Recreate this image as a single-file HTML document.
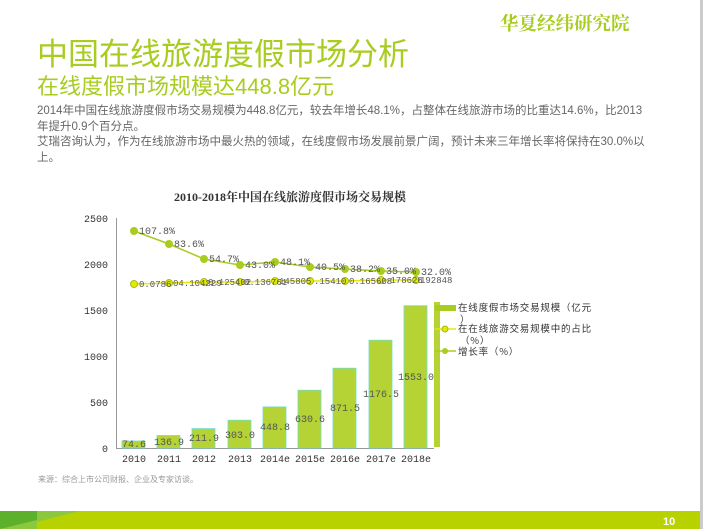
<!DOCTYPE html>
<html><head><meta charset="utf-8"><style>
body{margin:0;width:703px;height:529px;overflow:hidden;background:#fff;font-family:"Liberation Sans","Noto Sans CJK SC",sans-serif;position:relative}
.a{position:absolute;white-space:nowrap}
</style></head><body>
<div class="a" style="right:0;top:0;width:3px;height:529px;background:#ccc"></div>
<div class="a" style="left:500px;top:10px;font-size:18.5px;font-weight:bold;color:#a8cc20;font-family:'Noto Serif CJK SC',serif">华夏经纬研究院</div>
<div class="a" style="left:37px;top:29px;font-size:31px;color:#a8cc20">中国在线旅游度假市场分析</div>
<div class="a" style="left:37px;top:69px;font-size:22px;color:#a8cc20">在线度假市场规模达448.8亿元</div>
<div class="a" style="left:37px;top:104px;font-size:11.5px;line-height:15.5px;color:#666">2014年中国在线旅游度假市场交易规模为448.8亿元，较去年增长48.1%，占整体在线旅游市场的比重达14.6%，比2013<br>年提升0.9个百分点。<br>艾瑞咨询认为，作为在线旅游市场中最火热的领域，在线度假市场发展前景广阔，预计未来三年增长率将保持在30.0%以<br>上。</div>
<svg class="a" style="left:0;top:0" width="703" height="529" font-family="'Liberation Mono','Noto Sans CJK SC',monospace">
<text x="290" y="201" text-anchor="middle" font-size="12" font-weight="bold" font-family="'Liberation Serif','Noto Serif CJK SC',serif" fill="#333">2010-2018年中国在线旅游度假市场交易规模</text>
<g font-size="10" fill="#333" text-anchor="end">
<text x="108" y="222">2500</text><text x="108" y="268">2000</text><text x="108" y="314">1500</text><text x="108" y="360">1000</text><text x="108" y="406">500</text><text x="108" y="452">0</text>
</g>
<line x1="116.5" y1="218" x2="116.5" y2="448" stroke="#999"/>
<line x1="116" y1="448.5" x2="434" y2="448.5" stroke="#999"/>
<g fill="#b5d334" stroke="#6ee0c8" stroke-width="0.8">
<rect x="122" y="441" width="23" height="7"/><rect x="157" y="435.5" width="23" height="12.5"/><rect x="192" y="428.6" width="23" height="19.4"/><rect x="228" y="420.2" width="23" height="27.8"/><rect x="263" y="406.9" width="23" height="41.1"/><rect x="298" y="390.2" width="23" height="57.8"/><rect x="333" y="368.2" width="23" height="79.8"/><rect x="369" y="340.2" width="23" height="107.8"/><rect x="404" y="305.7" width="23" height="142.3"/>
</g>
<g font-size="10" fill="#555" text-anchor="middle">
<text x="134" y="447">74.6</text><text x="169" y="445">136.9</text><text x="204" y="441">211.9</text><text x="240" y="438">303.0</text><text x="275" y="430">448.8</text><text x="310" y="422">630.6</text><text x="345" y="411">871.5</text><text x="381" y="397">1176.5</text><text x="416" y="380">1553.0</text>
</g>
<g font-size="10" fill="#333" text-anchor="middle">
<text x="134" y="462">2010</text><text x="169" y="462">2011</text><text x="204" y="462">2012</text><text x="240" y="462">2013</text><text x="275" y="462">2014e</text><text x="310" y="462">2015e</text><text x="345" y="462">2016e</text><text x="381" y="462">2017e</text><text x="416" y="462">2018e</text>
</g>
<polyline fill="none" stroke="#e8e800" stroke-width="1.5" points="134,284 169,283 204,282 240,282 275,281 310,281 345,281 381,280 416,280"/>
<g fill="#e8e800" stroke="#8ab000" stroke-width="0.8">
<circle cx="134" cy="284" r="3.5"/><circle cx="169" cy="283" r="3.5"/><circle cx="204" cy="282" r="3.5"/><circle cx="240" cy="282" r="3.5"/><circle cx="275" cy="281" r="3.5"/><circle cx="310" cy="281" r="3.5"/><circle cx="345" cy="281" r="3.5"/><circle cx="381" cy="280" r="3.5"/><circle cx="416" cy="280" r="3.5"/>
</g>
<g font-size="9" fill="#555">
<text x="139" y="287">0.0786</text><text x="173" y="286">04.104229</text><text x="208" y="285">0.125402</text><text x="244" y="285">0.136761</text><text x="279" y="284">145805</text><text x="314" y="284">.15410</text><text x="349" y="284">0.165608</text><text x="385" y="283">.178626</text><text x="420" y="283">192848</text>
</g>
<polyline fill="none" stroke="#a8cc20" stroke-width="1.5" points="134,231 169,244 204,259 240,265 275,262 310,267 345,269 381,271 416,272"/>
<g fill="#a8cc20">
<circle cx="134" cy="231" r="4"/><circle cx="169" cy="244" r="4"/><circle cx="204" cy="259" r="4"/><circle cx="240" cy="265" r="4"/><circle cx="275" cy="262" r="4"/><circle cx="310" cy="267" r="4"/><circle cx="345" cy="269" r="4"/><circle cx="381" cy="271" r="4"/><circle cx="416" cy="272" r="4"/>
</g>
<g font-size="10" fill="#555">
<text x="139" y="234">107.8%</text><text x="174" y="247">83.6%</text><text x="209" y="262">54.7%</text><text x="245" y="268">43.0%</text><text x="280" y="265">48.1%</text><text x="315" y="270">40.5%</text><text x="350" y="272">38.2%</text><text x="386" y="274">35.0%</text><text x="421" y="275">32.0%</text>
</g>
<rect x="434" y="302" width="6" height="145" fill="#b5d334"/>
<rect x="435" y="305" width="21" height="6" fill="#a8cc20"/>
<line x1="435" y1="329" x2="456" y2="329" stroke="#e8e800" stroke-width="1.5"/><circle cx="445" cy="329" r="3" fill="#e8e800" stroke="#8ab000" stroke-width="0.8"/>
<line x1="435" y1="351" x2="456" y2="351" stroke="#a8cc20" stroke-width="1.5"/><circle cx="445" cy="351" r="3" fill="#a8cc20"/>
<g font-size="9.5" fill="#333" font-family="'Noto Sans CJK SC',sans-serif" letter-spacing="0.8">
<text x="458" y="311">在线度假市场交易规模（亿元</text><text x="460" y="323">）</text>
<text x="458" y="332">在在线旅游交易规模中的占比</text><text x="460" y="344">（%）</text>
<text x="458" y="355">增长率（%）</text>
</g>
<text x="38" y="482" font-size="8" fill="#999" font-family="'Noto Sans CJK SC',sans-serif">来源：综合上市公司财报、企业及专家访谈。</text>
<rect x="0" y="511" width="700" height="18" fill="#b8d200"/>
<polygon points="0,511 37,511 37,529 0,529" fill="#5cb02c"/>
<polygon points="37,511 80,511 37,522" fill="#8cc83c"/>
<polygon points="0,529 37,520 37,529" fill="#8cc83c"/>
<text x="663" y="525" font-size="11" font-weight="bold" fill="#fff" font-family="'Liberation Sans',sans-serif">10</text>
</svg>
</body></html>
